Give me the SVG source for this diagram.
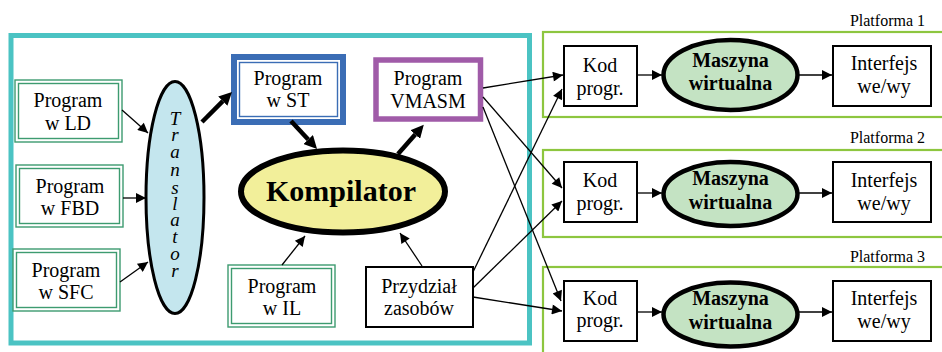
<svg xmlns="http://www.w3.org/2000/svg" width="942" height="352" viewBox="0 0 942 352">
<style>
text{font-family:"Liberation Serif","Times New Roman",serif;fill:#000;text-anchor:middle}
.t{font-size:20px}
.b{font-size:20px;font-weight:bold}
.pl{font-size:16px;text-anchor:end}
.g{fill:#fff;stroke:#3D9B70;stroke-width:1.4}
.box{fill:#fff;stroke:#000;stroke-width:2}
.plat{fill:none;stroke:#8DC63F;stroke-width:2.2}
.vm{fill:#C4E3C3;stroke:#000;stroke-width:4.5}
.ln{stroke:#000;stroke-width:1.3;fill:none}
.tk{stroke:#000;stroke-width:4.5;fill:none}
.tr{font-size:19px;font-style:italic}
</style>
<defs>
<marker id="a" viewBox="0 0 10 10" refX="10" refY="5" markerUnits="userSpaceOnUse" markerWidth="13" markerHeight="10" orient="auto"><path d="M0,0L10,5L0,10z" fill="#000"/></marker>
<marker id="k" viewBox="0 0 10 10" refX="0" refY="5" markerUnits="userSpaceOnUse" markerWidth="13" markerHeight="13" orient="auto"><path d="M0,0L10,5L0,10z" fill="#000"/></marker>
</defs>
<rect width="942" height="352" fill="#fff"/>
<g id="frame">
<rect x="11" y="35.5" width="518.5" height="307.5" fill="none" stroke="#4BC3C3" stroke-width="5"/>
</g>
<g id="platforma1">
<rect class="plat" x="543" y="32" width="410" height="85"/>
<text class="pl" x="925" y="26">Platforma 1</text>
</g>
<g id="platforma2">
<rect class="plat" x="543" y="150" width="410" height="87"/>
<text class="pl" x="925" y="143">Platforma 2</text>
</g>
<g id="platforma3">
<rect class="plat" x="543" y="267" width="410" height="100"/>
<text class="pl" x="925" y="262">Platforma 3</text>
</g>
<g id="ld">
<rect class="g" x="15" y="80" width="107" height="62"/>
<rect class="g" x="18.5" y="83.5" width="100" height="55"/>
<text class="t" x="68" y="107">Program</text>
<text class="t" x="68" y="130">w LD</text>
</g>
<g id="fbd">
<rect class="g" x="16" y="165" width="107" height="62"/>
<rect class="g" x="19.5" y="168.5" width="100" height="55"/>
<text class="t" x="70" y="193">Program</text>
<text class="t" x="70" y="215">w FBD</text>
</g>
<g id="sfc">
<rect class="g" x="13" y="249" width="107" height="62"/>
<rect class="g" x="16.5" y="252.5" width="100" height="55"/>
<text class="t" x="66" y="277">Program</text>
<text class="t" x="66" y="299">w SFC</text>
</g>
<g id="translator">
<ellipse cx="175" cy="197.5" rx="29" ry="116" fill="#C4E6EE" stroke="#000" stroke-width="3"/>
<text class="tr"><tspan x="175" y="125">T</tspan><tspan x="175" y="141">r</tspan><tspan x="175" y="158">a</tspan><tspan x="175" y="176">n</tspan><tspan x="175" y="194">s</tspan><tspan x="175" y="210">l</tspan><tspan x="175" y="226">a</tspan><tspan x="175" y="243">t</tspan><tspan x="175" y="260">o</tspan><tspan x="175" y="277">r</tspan></text>
</g>
<g id="st">
<rect x="234" y="57" width="109" height="65" fill="#fff" stroke="#3B6DB5" stroke-width="6"/>
<rect x="239.5" y="62.5" width="98" height="54" fill="none" stroke="#3B6DB5" stroke-width="1.4"/>
<text class="t" x="288" y="85">Program</text>
<text class="t" x="288" y="107">w ST</text>
</g>
<g id="vmasm">
<rect x="376" y="60" width="104.5" height="59" fill="#fff" stroke="#A05BA8" stroke-width="5.5"/>
<text class="t" x="428" y="85">Program</text>
<text class="t" x="428" y="108">VMASM</text>
</g>
<g id="kompilator">
<ellipse cx="343" cy="191.5" rx="102" ry="41" fill="#F2EF9A" stroke="#000" stroke-width="6"/>
<text x="341" y="201" font-size="30" font-weight="bold">Kompilator</text>
</g>
<g id="il">
<rect class="g" x="228" y="265" width="107" height="62"/>
<rect class="g" x="231.5" y="268.5" width="100" height="55"/>
<text class="t" x="282" y="293">Program</text>
<text class="t" x="282" y="315">w IL</text>
</g>
<g id="przydzial">
<rect class="box" x="366" y="267" width="107" height="60"/>
<text class="t" x="419" y="293">Przydział</text>
<text class="t" x="419" y="315">zasobów</text>
</g>
<g id="kod1"><rect class="box" x="564" y="46" width="73" height="60"/><text class="t" x="600" y="72">Kod</text><text class="t" x="600" y="95">progr.</text></g>
<g id="vm1"><ellipse class="vm" cx="730.5" cy="75" rx="67" ry="35"/><text class="b" x="730.5" y="67">Maszyna</text><text class="b" x="730.5" y="90">wirtualna</text></g>
<g id="io1"><rect class="box" x="833" y="46" width="98" height="60"/><text class="t" x="884" y="70">Interfejs</text><text class="t" x="884" y="93">we/wy</text></g>
<g id="kod2"><rect class="box" x="564" y="162" width="73" height="60"/><text class="t" x="600" y="187">Kod</text><text class="t" x="600" y="210">progr.</text></g>
<g id="vm2"><ellipse class="vm" cx="730.5" cy="194" rx="67" ry="32"/><text class="b" x="730.5" y="185">Maszyna</text><text class="b" x="730.5" y="209">wirtualna</text></g>
<g id="io2"><rect class="box" x="833" y="162" width="98" height="60"/><text class="t" x="884" y="187">Interfejs</text><text class="t" x="884" y="210">we/wy</text></g>
<g id="kod3"><rect class="box" x="564" y="281" width="73" height="60"/><text class="t" x="600" y="305">Kod</text><text class="t" x="600" y="327">progr.</text></g>
<g id="vm3"><ellipse class="vm" cx="730.5" cy="314.5" rx="67" ry="32"/><text class="b" x="730.5" y="305">Maszyna</text><text class="b" x="730.5" y="329">wirtualna</text></g>
<g id="io3"><rect class="box" x="833" y="281" width="98" height="60"/><text class="t" x="884" y="305">Interfejs</text><text class="t" x="884" y="328">we/wy</text></g>
<g id="connectors">
<line class="ln" x1="122" y1="110" x2="148" y2="133" marker-end="url(#a)"/>
<line class="ln" x1="123" y1="198" x2="146" y2="198" marker-end="url(#a)"/>
<line class="ln" x1="120" y1="282" x2="148" y2="262" marker-end="url(#a)"/>
<line class="tk" x1="202" y1="122" x2="222.8" y2="101.2" marker-end="url(#k)"/>
<line class="tk" x1="291" y1="121" x2="308.2" y2="139.5" marker-end="url(#k)"/>
<line class="tk" x1="398" y1="154" x2="415.2" y2="134.5" marker-end="url(#k)"/>
<line class="ln" x1="282" y1="265" x2="305" y2="236" marker-end="url(#a)"/>
<line class="ln" x1="422" y1="266" x2="400" y2="233" marker-end="url(#a)"/>
<line class="ln" x1="483" y1="88" x2="563" y2="75" marker-end="url(#a)"/>
<line class="ln" x1="483" y1="97" x2="562" y2="188" marker-end="url(#a)"/>
<line class="ln" x1="483" y1="107" x2="561" y2="301" marker-end="url(#a)"/>
<line class="ln" x1="473" y1="272" x2="562" y2="89" marker-end="url(#a)"/>
<line class="ln" x1="473" y1="288" x2="562" y2="201" marker-end="url(#a)"/>
<line class="ln" x1="473" y1="297" x2="562" y2="311" marker-end="url(#a)"/>
<line class="ln" x1="637" y1="75" x2="662" y2="75" marker-end="url(#a)"/>
<line class="ln" x1="797" y1="75" x2="832" y2="75" marker-end="url(#a)"/>
<line class="ln" x1="637" y1="193" x2="662" y2="193" marker-end="url(#a)"/>
<line class="ln" x1="797" y1="193" x2="832" y2="193" marker-end="url(#a)"/>
<line class="ln" x1="637" y1="312" x2="662" y2="312" marker-end="url(#a)"/>
<line class="ln" x1="797" y1="312" x2="832" y2="312" marker-end="url(#a)"/>
</g>
</svg>
